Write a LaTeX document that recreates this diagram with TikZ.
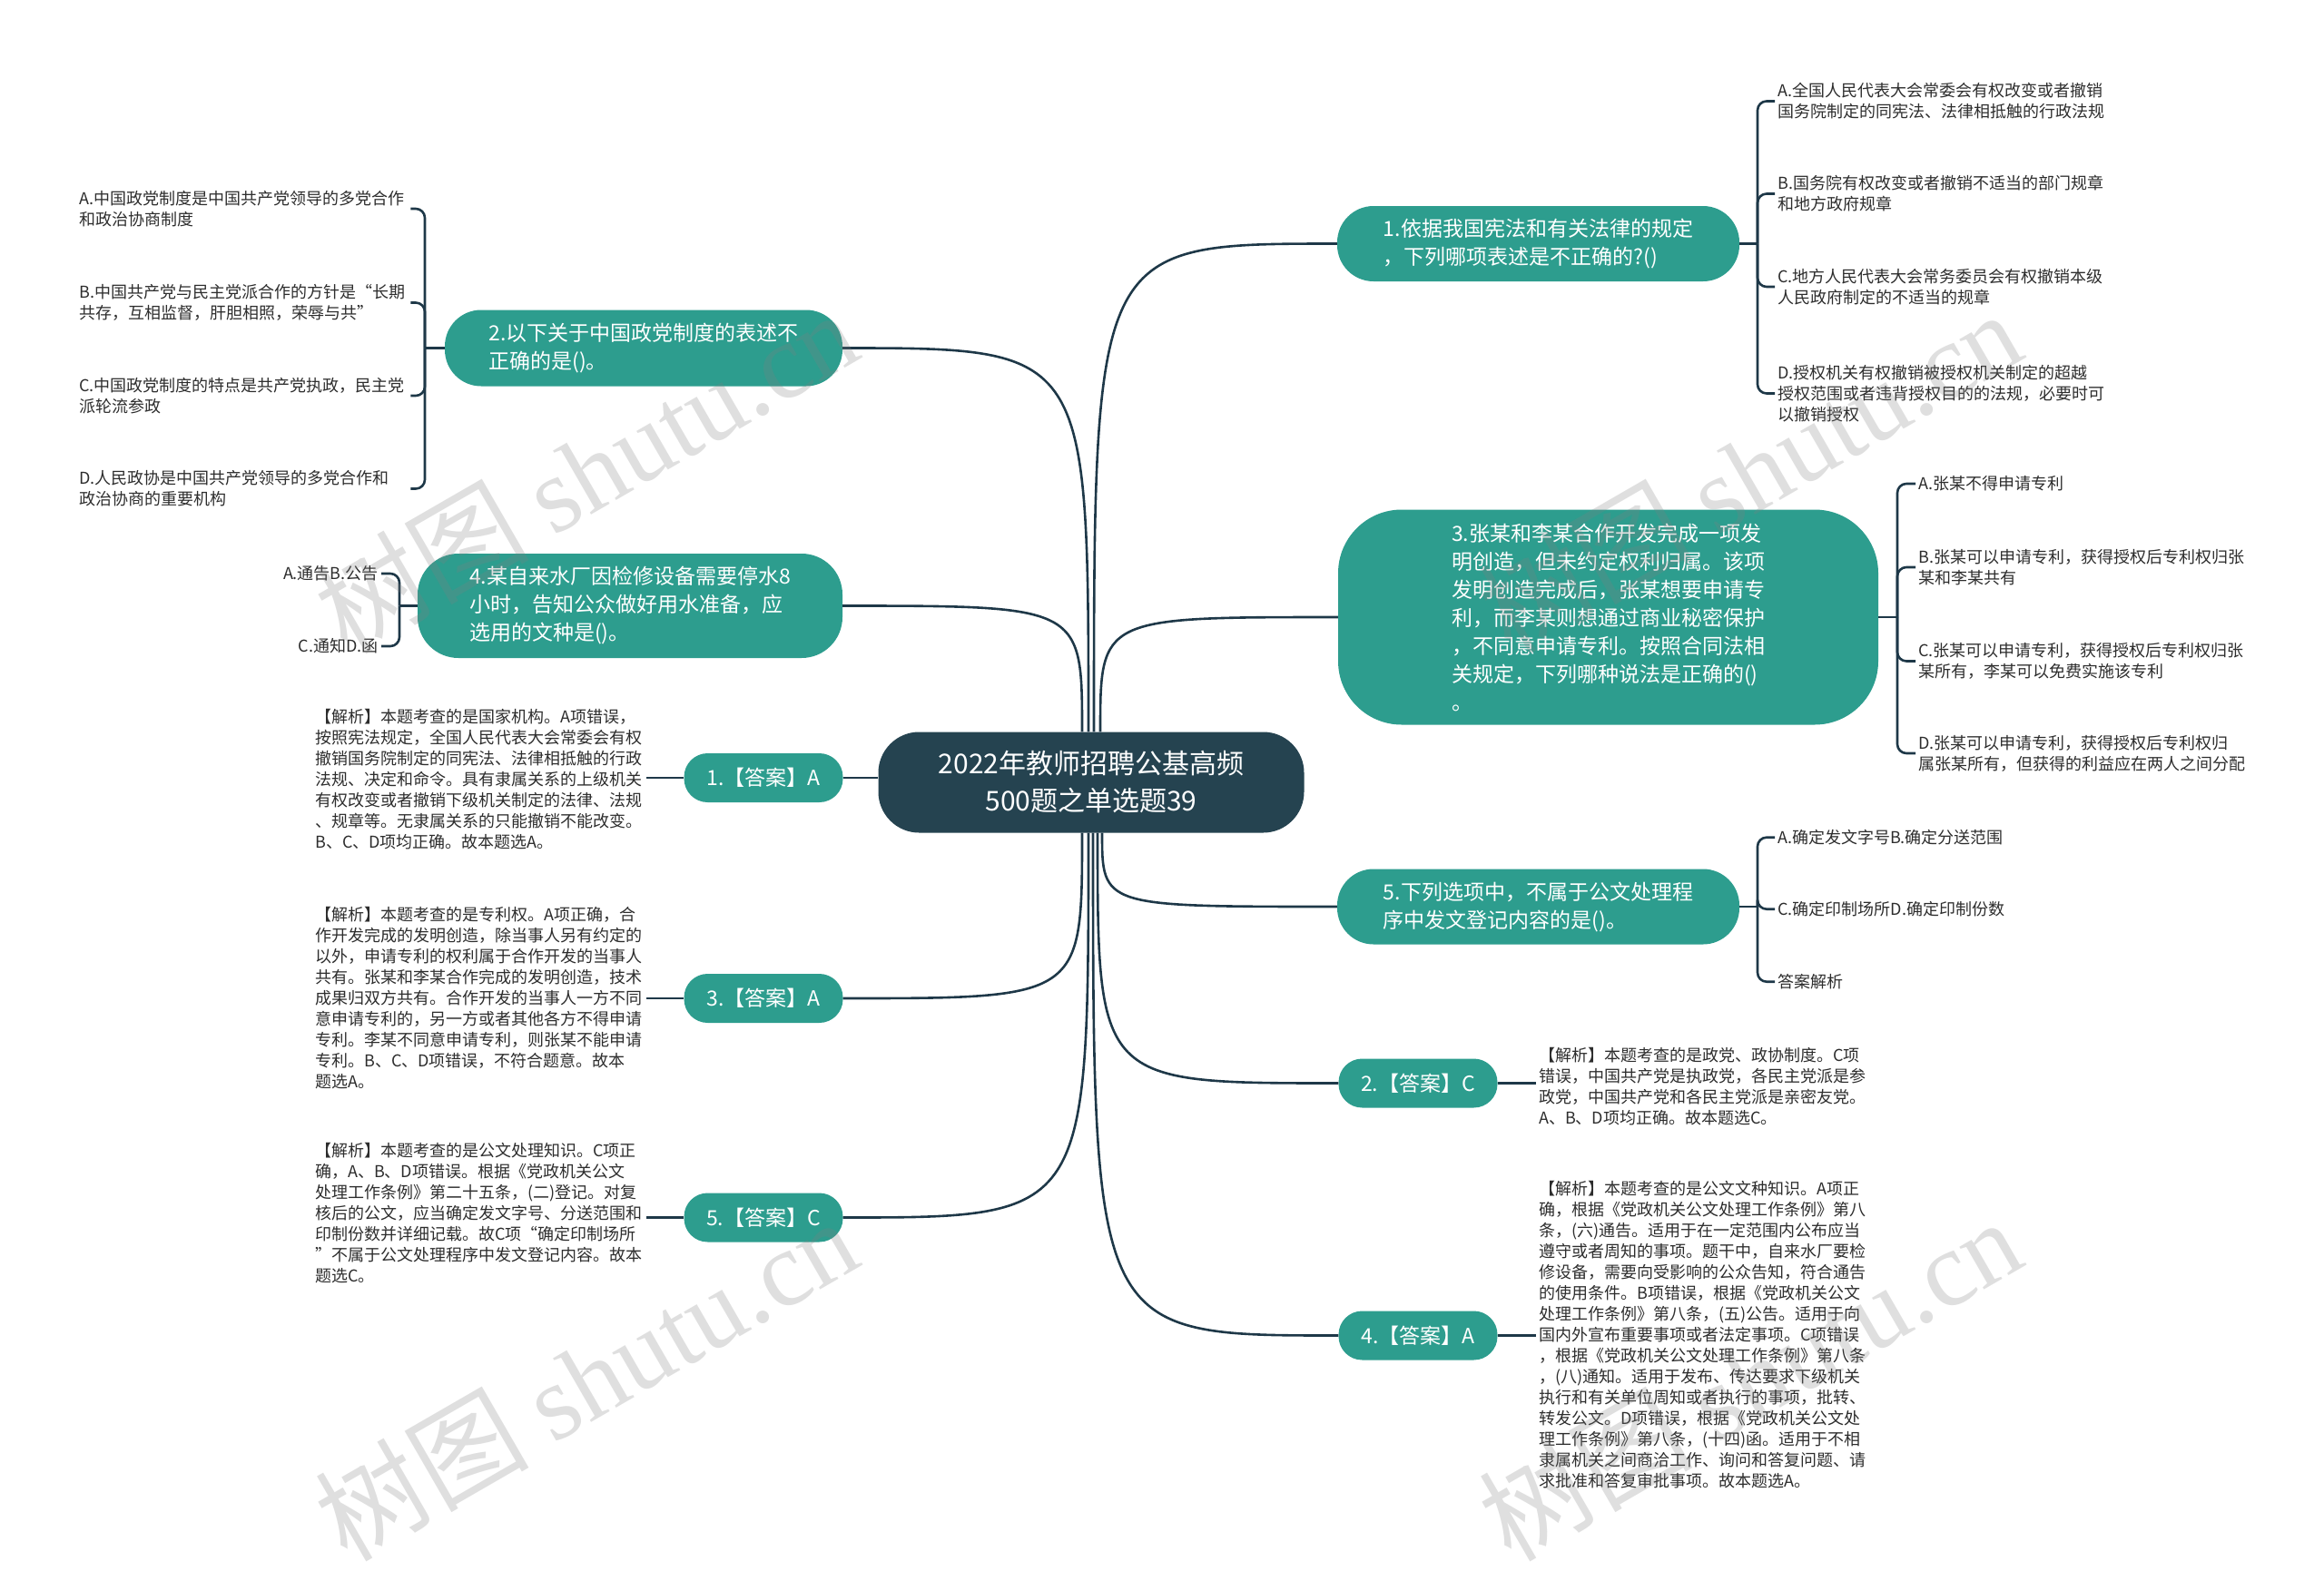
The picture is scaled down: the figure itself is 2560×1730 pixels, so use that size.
\documentclass[tikz,border=0pt]{standalone}
\usepackage{fontspec}
\setmainfont{Noto Sans CJK SC}
\newfontfamily\wmfont{Liberation Serif}
\usetikzlibrary{positioning}
\definecolor{rootnavy}{RGB}{37,67,80}
\definecolor{qteal}{RGB}{45,157,142}
\definecolor{linenavy}{RGB}{30,56,72}
\definecolor{txtgray}{RGB}{45,45,45}

\begin{document}
\begin{tikzpicture}[x=1pt, y=1pt,
  RT/.style ={fill=rootnavy, text=white, rounded corners=45pt, minimum width=469pt,
              minimum height=111pt, inner sep=0pt, align=center, font=\fontsize{30}{41}\selectfont},
  QN/.style ={fill=qteal, text=white, rounded corners=40pt, inner sep=0pt, align=left,
              font=\fontsize{23}{31}\selectfont},
  AN/.style ={fill=qteal, text=white, rounded corners=26pt, minimum width=175pt,
              minimum height=54pt, inner sep=0pt, font=\fontsize{23}{28}\selectfont},
  LF/.style ={inner xsep=3pt, inner ysep=0pt, align=left, text=txtgray,
              font=\fontsize{18}{23}\selectfont},
  EX/.style ={LF, text width=362pt},
  LN/.style ={draw=linenavy, line width=2.6pt},
  HK/.style ={LN, rounded corners=10pt},
  WM/.style ={text=gray, text opacity=0.25, rotate=30, font=\fontsize{118}{118}\selectfont}
]
  \useasboundingbox (0,0) rectangle (2560,-1730);

  \node[RT] (root) at (1202,-862) {2022年教师招聘公基高频\\500题之单选题39};

  \node[QN, minimum width=443pt, minimum height=83pt] (q1) at (1694.5,-268.5)
    {1.依据我国宪法和有关法律的规定\\，下列哪项表述是不正确的?()};
  \node[QN, minimum width=438pt, minimum height=84pt] (q2) at (709,-383.5)
    {2.以下关于中国政党制度的表述不\\正确的是()。};
  \node[QN, minimum width=595pt, minimum height=237pt, rounded corners=70pt] (q3) at (1771.5,-680)
    {3.张某和李某合作开发完成一项发\\明创造，但未约定权利归属。该项\\发明创造完成后，张某想要申请专\\利，而李某则想通过商业秘密保护\\，不同意申请专利。按照合同法相\\关规定，下列哪种说法是正确的()\\。};
  \node[QN, minimum width=468pt, minimum height=115pt, rounded corners=45pt] (q4) at (694,-667.5)
    {4.某自来水厂因检修设备需要停水8\\小时，告知公众做好用水准备，应\\选用的文种是()。};
  \node[QN, minimum width=443pt, minimum height=83pt] (q5) at (1694.5,-999)
    {5.下列选项中，不属于公文处理程\\序中发文登记内容的是()。};

  \node[AN] (a1) at (841,-857) {1.【答案】A};
  \node[AN] (a2) at (1562,-1193.5) {2.【答案】C};
  \node[AN] (a3) at (841,-1100) {3.【答案】A};
  \node[AN] (a4) at (1562,-1471.5) {4.【答案】A};
  \node[AN] (a5) at (841,-1341.5) {5.【答案】C};

  % options of question 1
  \node[LF, anchor=west] (q1a) at (1955,-111.5)
    {A.全国人民代表大会常委会有权改变或者撤销\\国务院制定的同宪法、法律相抵触的行政法规};
  \node[LF, anchor=west] (q1b) at (1955,-213.5)
    {B.国务院有权改变或者撤销不适当的部门规章\\和地方政府规章};
  \node[LF, anchor=west] (q1c) at (1955,-316)
    {C.地方人民代表大会常务委员会有权撤销本级\\人民政府制定的不适当的规章};
  \node[LF, anchor=west] (q1d) at (1955,-433.5)
    {D.授权机关有权撤销被授权机关制定的超越\\授权范围或者违背授权目的的法规，必要时可\\以撤销授权};

  % options of question 2
  \node[EX, anchor=west] (q2a) at (84,-230)
    {A.中国政党制度是中国共产党领导的多党合作\\和政治协商制度};
  \node[EX, anchor=west] (q2b) at (84,-333.5)
    {B.中国共产党与民主党派合作的方针是“长期\\共存，互相监督，肝胆相照，荣辱与共”};
  \node[EX, anchor=west] (q2c) at (84,-436)
    {C.中国政党制度的特点是共产党执政，民主党\\派轮流参政};
  \node[EX, anchor=west] (q2d) at (84,-538.5)
    {D.人民政协是中国共产党领导的多党合作和\\政治协商的重要机构};

  % options of question 3
  \node[LF, anchor=west] (q3a) at (2110,-533) {A.张某不得申请专利};
  \node[LF, anchor=west] (q3b) at (2110,-625)
    {B.张某可以申请专利，获得授权后专利权归张\\某和李某共有};
  \node[LF, anchor=west] (q3c) at (2110,-728.5)
    {C.张某可以申请专利，获得授权后专利权归张\\某所有，李某可以免费实施该专利};
  \node[LF, anchor=west] (q3d) at (2110,-830)
    {D.张某可以申请专利，获得授权后专利权归\\属张某所有，但获得的利益应在两人之间分配};

  % options of question 4
  \node[LF, anchor=east] (q4a) at (420,-632) {A.通告B.公告};
  \node[LF, anchor=east] (q4b) at (420,-712) {C.通知D.函};

  % options of question 5
  \node[LF, anchor=west] (q5a) at (1955,-922.7) {A.确定发文字号B.确定分送范围};
  \node[LF, anchor=west] (q5b) at (1955,-1001.7) {C.确定印制场所D.确定印制份数};
  \node[LF, anchor=west] (q5c) at (1955,-1081.7) {答案解析};

  % explanations
  \node[EX, anchor=west] (e1) at (344,-859)
    {【解析】本题考查的是国家机构。A项错误，\\按照宪法规定，全国人民代表大会常委会有权\\撤销国务院制定的同宪法、法律相抵触的行政\\法规、决定和命令。具有隶属关系的上级机关\\有权改变或者撤销下级机关制定的法律、法规\\、规章等。无隶属关系的只能撤销不能改变。\\B、C、D项均正确。故本题选A。};
  \node[EX, anchor=west] (e3) at (344,-1100)
    {【解析】本题考查的是专利权。A项正确，合\\作开发完成的发明创造，除当事人另有约定的\\以外，申请专利的权利属于合作开发的当事人\\共有。张某和李某合作完成的发明创造，技术\\成果归双方共有。合作开发的当事人一方不同\\意申请专利的，另一方或者其他各方不得申请\\专利。李某不同意申请专利，则张某不能申请\\专利。B、C、D项错误，不符合题意。故本\\题选A。};
  \node[EX, anchor=west] (e5) at (344,-1336.5)
    {【解析】本题考查的是公文处理知识。C项正\\确，A、B、D项错误。根据《党政机关公文\\处理工作条例》第二十五条，(二)登记。对复\\核后的公文，应当确定发文字号、分送范围和\\印制份数并详细记载。故C项“确定印制场所\\”不属于公文处理程序中发文登记内容。故本\\题选C。};
  \node[EX, anchor=west] (e2) at (1692,-1197)
    {【解析】本题考查的是政党、政协制度。C项\\错误，中国共产党是执政党，各民主党派是参\\政党，中国共产党和各民主党派是亲密友党。\\A、B、D项均正确。故本题选C。};
  \node[EX, anchor=west] (e4) at (1692,-1471)
    {【解析】本题考查的是公文文种知识。A项正\\确，根据《党政机关公文处理工作条例》第八\\条，(六)通告。适用于在一定范围内公布应当\\遵守或者周知的事项。题干中，自来水厂要检\\修设备，需要向受影响的公众告知，符合通告\\的使用条件。B项错误，根据《党政机关公文\\处理工作条例》第八条，(五)公告。适用于向\\国内外宣布重要事项或者法定事项。C项错误\\，根据《党政机关公文处理工作条例》第八条\\，(八)通知。适用于发布、传达要求下级机关\\执行和有关单位周知或者执行的事项，批转、\\转发公文。D项错误，根据《党政机关公文处\\理工作条例》第八条，(十四)函。适用于不相\\隶属机关之间商洽工作、询问和答复问题、请\\求批准和答复审批事项。故本题选A。};

  % branches from the root
  \foreach \q/\dx in {q1/3, q3/10}
    \draw[LN] ([xshift=\dx pt]root.north) .. controls ([xshift=\dx pt]root.north |- \q.west) .. (\q.west);
  \foreach \q/\dx in {q2/-3, q4/-10}
    \draw[LN] ([xshift=\dx pt]root.north) .. controls ([xshift=\dx pt]root.north |- \q.east) .. (\q.east);
  \foreach \q/\dx in {q5/12, a2/7, a4/2}
    \draw[LN] ([xshift=\dx pt]root.south) .. controls ([xshift=\dx pt]root.south |- \q.west) .. (\q.west);
  \foreach \q/\dx in {a3/-10, a5/-3}
    \draw[LN] ([xshift=\dx pt]root.south) .. controls ([xshift=\dx pt]root.south |- \q.east) .. (\q.east);
  \draw[LN] (a1.east) -- (a1.east -| root.west);

  % brackets to the options
  \coordinate (b1) at (1936,-268.5);
  \coordinate (b2) at (468,-383.5);
  \coordinate (b3) at (2090,-680);
  \coordinate (b4) at (440,-667.5);
  \coordinate (b5) at (1936,-999);
  \draw[LN] (q1.east) -- (b1);
  \draw[LN] (q2.west) -- (b2);
  \draw[LN] (q3.east) -- (b3);
  \draw[LN] (q4.west) -- (b4);
  \draw[LN] (q5.east) -- (b5);
  \foreach \l in {q1a,q1b,q1c,q1d}
    \draw[HK] (b1) |- (\l.west);
  \foreach \l in {q2a,q2b,q2c,q2d}
    \draw[HK] (b2) |- (\l.east);
  \foreach \l in {q3a,q3b,q3c,q3d}
    \draw[HK] (b3) |- (\l.west);
  \foreach \l in {q4a,q4b}
    \draw[HK] (b4) |- (\l.east);
  \foreach \l in {q5a,q5b,q5c}
    \draw[HK] (b5) |- (\l.west);

  % answers to explanations
  \foreach \a/\e in {a1/e1, a3/e3, a5/e5}
    \draw[LN] (\a.west) -- (\a.west -| \e.east);
  \foreach \a/\e in {a2/e2, a4/e4}
    \draw[LN] (\a.east) -- (\a.east -| \e.west);

  % watermarks
  \node[WM] (wm1) at (645,-519) {树图 {\wmfont shutu.cn}};
  \node[WM] (wm2) at (1927,-519) {树图 {\wmfont shutu.cn}};
  \node[WM] (wm3) at (645,-1519) {树图 {\wmfont shutu.cn}};
  \node[WM] (wm4) at (1927,-1519) {树图 {\wmfont shutu.cn}};
\end{tikzpicture}
\end{document}
